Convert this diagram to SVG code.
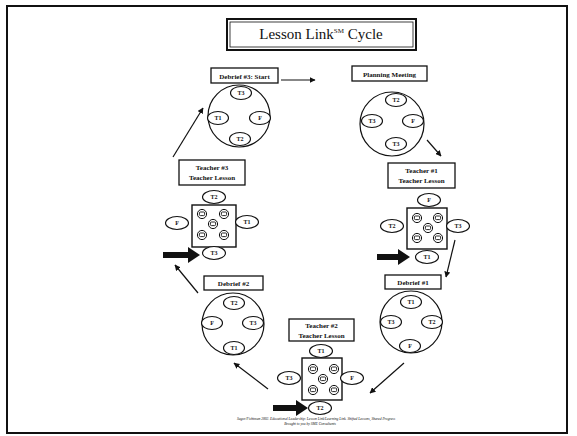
<svg xmlns="http://www.w3.org/2000/svg" width="577" height="436" viewBox="0 0 577 436">
<defs>
<marker id="ah" viewBox="0 0 10 10" refX="9" refY="5" markerWidth="6" markerHeight="6" orient="auto" markerUnits="userSpaceOnUse">
<path d="M0,0 L10,5 L0,10 z" fill="#111"/>
</marker>
<g id="face">
<circle r="4.6" fill="#fff" stroke="#111" stroke-width="1"/>
<rect x="-2.6" y="-2" width="5.2" height="3.6" rx="1" fill="none" stroke="#111" stroke-width="0.9"/>
</g>
</defs>
<style>
text{font-family:"Liberation Serif","Times New Roman",serif;fill:#111}
.lbl{font-size:7px;font-weight:bold;text-anchor:middle}
.sm{font-size:6px;font-weight:bold;text-anchor:middle}
.box{fill:#fff;stroke:#111;stroke-width:1.3}
.ring{fill:#fff;stroke:#111;stroke-width:1.2}
.seat{fill:#fff;stroke:#111;stroke-width:1.1}
.room{fill:#fff;stroke:#111;stroke-width:1.4}
.con{stroke:#111;stroke-width:1.2;fill:none;marker-end:url(#ah)}
.big{fill:#111}
.foot{font-size:3.6px;font-style:italic;text-anchor:middle}
</style>
<rect x="0" y="0" width="577" height="436" fill="#fff"/>
<rect x="7" y="6" width="560" height="427" fill="none" stroke="#111" stroke-width="2"/>

<g id="title">
<rect x="227" y="19" width="189" height="31" fill="#fff" stroke="#111" stroke-width="2"/>
<rect x="230" y="22" width="183" height="25" fill="none" stroke="#111" stroke-width="0.8"/>
<text x="321" y="39" font-size="15" text-anchor="middle">Lesson Link<tspan font-size="7" dy="-6">SM</tspan><tspan dy="6"> Cycle</tspan></text>
</g>

<g id="connectors">
<line class="con" x1="281" y1="80" x2="315" y2="80"/>
<line class="con" x1="427" y1="140" x2="441" y2="156"/>
<line class="con" x1="455" y1="240" x2="446" y2="277"/>
<line class="con" x1="404" y1="363" x2="370" y2="393"/>
<line class="con" x1="268" y1="389" x2="234" y2="363"/>
<line class="con" x1="198" y1="293" x2="175" y2="265"/>
<line class="con" x1="173" y1="157" x2="203" y2="108"/>
</g>

<g id="pointers">
<polygon class="big" points="163,252 188,252 188,247 200,255 188,263 188,258 163,258"/>
<polygon class="big" points="377,254 398,254 398,249 410,257 398,265 398,260 377,260"/>
<polygon class="big" points="273,405 296,405 296,400 308,408 296,416 296,411 273,411"/>
</g>

<g id="debrief3">
<rect class="box" x="211" y="68" width="67" height="15"/>
<text class="lbl" x="244.5" y="78.5">Debrief #3: Start</text>
<circle class="ring" cx="239" cy="116" r="31"/>
<ellipse class="seat" cx="241" cy="93" rx="10.5" ry="6.5"/><text class="sm" x="241" y="95.2">T3</text>
<ellipse class="seat" cx="218" cy="118" rx="10.5" ry="6.5"/><text class="sm" x="218" y="120.2">T1</text>
<ellipse class="seat" cx="260" cy="118" rx="10.5" ry="6.5"/><text class="sm" x="260" y="120.2">F</text>
<ellipse class="seat" cx="240" cy="139" rx="10.5" ry="6.5"/><text class="sm" x="240" y="141.2">T2</text>
</g>

<g id="planning">
<rect class="box" x="352" y="66" width="75" height="15"/>
<text class="lbl" x="389.5" y="76.5">Planning Meeting</text>
<circle class="ring" cx="392" cy="124" r="32"/>
<ellipse class="seat" cx="396" cy="100" rx="10.5" ry="6.5"/><text class="sm" x="396" y="102.2">T2</text>
<ellipse class="seat" cx="372" cy="121" rx="10.5" ry="6.5"/><text class="sm" x="372" y="123.2">T3</text>
<ellipse class="seat" cx="413" cy="121" rx="10.5" ry="6.5"/><text class="sm" x="413" y="123.2">F</text>
<ellipse class="seat" cx="396" cy="144" rx="10.5" ry="6.5"/><text class="sm" x="396" y="146.2">T3</text>
</g>

<g id="teacher1">
<rect class="box" x="388" y="163" width="67" height="25"/>
<text class="lbl" x="421.5" y="173">Teacher #1</text>
<text class="lbl" x="421.5" y="183">Teacher Lesson</text>
<rect class="room" x="407" y="208" width="40" height="41"/>
<use href="#face" x="417" y="218"/><use href="#face" x="438" y="218"/><use href="#face" x="428" y="228"/><use href="#face" x="417" y="238"/><use href="#face" x="438" y="238"/>
<ellipse class="seat" cx="429" cy="200" rx="11.5" ry="6.5"/><text class="sm" x="429" y="202.2">F</text>
<ellipse class="seat" cx="392" cy="226" rx="11.5" ry="6.5"/><text class="sm" x="392" y="228.2">T2</text>
<ellipse class="seat" cx="458" cy="226" rx="11.5" ry="6.5"/><text class="sm" x="458" y="228.2">T3</text>
<ellipse class="seat" cx="427" cy="257" rx="11.5" ry="6.5"/><text class="sm" x="427" y="259.2">T1</text>
</g>

<g id="debrief1">
<rect class="box" x="385" y="275" width="56" height="14"/>
<text class="lbl" x="413" y="284.5">Debrief #1</text>
<circle class="ring" cx="411" cy="322" r="31"/>
<ellipse class="seat" cx="411" cy="302" rx="10.5" ry="6.5"/><text class="sm" x="411" y="304.2">T1</text>
<ellipse class="seat" cx="391" cy="322" rx="10.5" ry="6.5"/><text class="sm" x="391" y="324.2">T3</text>
<ellipse class="seat" cx="432" cy="322" rx="10.5" ry="6.5"/><text class="sm" x="432" y="324.2">T2</text>
<ellipse class="seat" cx="410" cy="346" rx="10.5" ry="6.5"/><text class="sm" x="410" y="348.2">F</text>
</g>

<g id="teacher2">
<rect class="box" x="289" y="319" width="65" height="22"/>
<text class="lbl" x="321.5" y="328">Teacher #2</text>
<text class="lbl" x="321.5" y="337.5">Teacher Lesson</text>
<rect class="room" x="302" y="358" width="40" height="42"/>
<use href="#face" x="313" y="369"/><use href="#face" x="334" y="369"/><use href="#face" x="323" y="379"/><use href="#face" x="313" y="390"/><use href="#face" x="334" y="390"/>
<ellipse class="seat" cx="321" cy="351" rx="11.5" ry="6.5"/><text class="sm" x="321" y="353.2">T1</text>
<ellipse class="seat" cx="289" cy="378" rx="11.5" ry="6.5"/><text class="sm" x="289" y="380.2">T3</text>
<ellipse class="seat" cx="352" cy="378" rx="11.5" ry="6.5"/><text class="sm" x="352" y="380.2">F</text>
<ellipse class="seat" cx="320" cy="408" rx="11.5" ry="6.5"/><text class="sm" x="320" y="410.2">T2</text>
</g>

<g id="debrief2">
<rect class="box" x="204" y="276" width="59" height="14"/>
<text class="lbl" x="233.5" y="285.5">Debrief #2</text>
<circle class="ring" cx="233" cy="324" r="31"/>
<ellipse class="seat" cx="234" cy="303" rx="10.5" ry="6.5"/><text class="sm" x="234" y="305.2">T2</text>
<ellipse class="seat" cx="212" cy="323" rx="10.5" ry="6.5"/><text class="sm" x="212" y="325.2">F</text>
<ellipse class="seat" cx="253" cy="323" rx="10.5" ry="6.5"/><text class="sm" x="253" y="325.2">T3</text>
<ellipse class="seat" cx="234" cy="348" rx="10.5" ry="6.5"/><text class="sm" x="234" y="350.2">T1</text>
</g>

<g id="teacher3">
<rect class="box" x="179" y="160" width="66" height="25"/>
<text class="lbl" x="212" y="170">Teacher #3</text>
<text class="lbl" x="212" y="180">Teacher Lesson</text>
<rect class="room" x="192" y="205" width="44" height="42"/>
<use href="#face" x="202" y="214"/><use href="#face" x="224" y="214"/><use href="#face" x="213" y="224"/><use href="#face" x="202" y="235"/><use href="#face" x="224" y="235"/>
<ellipse class="seat" cx="214" cy="197" rx="11.5" ry="6.5"/><text class="sm" x="214" y="199.2">T2</text>
<ellipse class="seat" cx="177" cy="223" rx="11.5" ry="6.5"/><text class="sm" x="177" y="225.2">F</text>
<ellipse class="seat" cx="247" cy="222" rx="11.5" ry="6.5"/><text class="sm" x="247" y="224.2">T1</text>
<ellipse class="seat" cx="214" cy="253" rx="11.5" ry="6.5"/><text class="sm" x="214" y="255.2">T3</text>
</g>

<g id="footer">
<text class="foot" x="316" y="419.5">Sagor/Fichtman 2002. Educational Leadership: Lesson Link/Learning Link. Shifted Lessons, Shared Progress</text>
<text class="foot" x="310" y="424.5">Brought to you by SME Consultants</text>
</g>
</svg>
